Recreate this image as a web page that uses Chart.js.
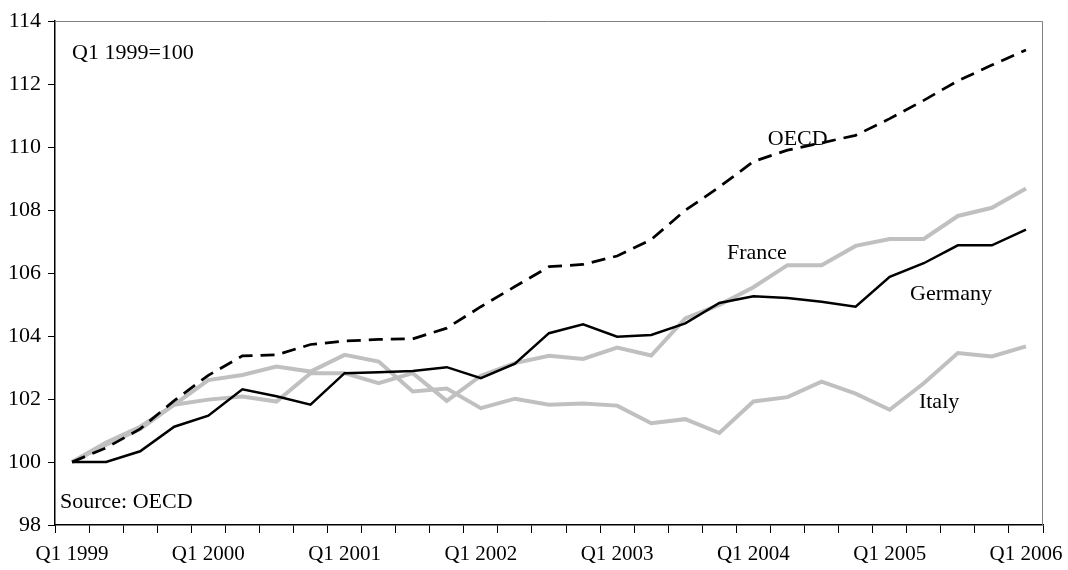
<!DOCTYPE html>
<html>
<head>
<meta charset="utf-8">
<script src="https://cdn.jsdelivr.net/npm/chart.js"></script>
<style>
  html, body { margin: 0; padding: 0; background: #fff; }
  #chart { display: block; }
</style>
</head>
<body>
<canvas id="chart" width="1068" height="570"></canvas>
<script>
// quarters, Q1 1999 .. Q1 2006
const quarters = [
  "Q1 1999", "Q2 1999", "Q3 1999", "Q4 1999",
  "Q1 2000", "Q2 2000", "Q3 2000", "Q4 2000",
  "Q1 2001", "Q2 2001", "Q3 2001", "Q4 2001",
  "Q1 2002", "Q2 2002", "Q3 2002", "Q4 2002",
  "Q1 2003", "Q2 2003", "Q3 2003", "Q4 2003",
  "Q1 2004", "Q2 2004", "Q3 2004", "Q4 2004",
  "Q1 2005", "Q2 2005", "Q3 2005", "Q4 2005",
  "Q1 2006"
];
const tickLabels = ["Q1 1999", "Q1 2000", "Q1 2001", "Q1 2002", "Q1 2003", "Q1 2004", "Q1 2005", "Q1 2006"];

// index values, Q1 1999 = 100
const oecd = [100, 100.45, 101.05, 101.95, 102.75, 103.37, 103.4, 103.73, 103.84, 103.89, 103.91, 104.25,
  104.93, 105.57, 106.2, 106.27, 106.54, 107.06, 107.99, 108.73, 109.54, 109.9, 110.13, 110.37,
  110.9, 111.48, 112.1, 112.6, 113.08];
const germany = [100, 100, 100.34, 101.12, 101.47, 102.31, 102.09, 101.82, 102.82, 102.85, 102.89, 103.01,
  102.66, 103.12, 104.09, 104.37, 103.98, 104.03, 104.4, 105.05, 105.26, 105.21, 105.09, 104.93,
  105.88, 106.31, 106.88, 106.88, 107.38];
const france = [100, 100.55, 101.05, 101.82, 101.98, 102.08, 101.92, 102.82, 102.82, 102.5, 102.82, 101.94,
  102.74, 103.14, 103.37, 103.27, 103.63, 103.38, 104.56, 104.99, 105.55, 106.25, 106.25, 106.86,
  107.08, 107.08, 107.81, 108.07, 108.68];
const italy = [100, 100.62, 101.12, 101.82, 102.6, 102.76, 103.03, 102.87, 103.4, 103.19, 102.24, 102.33,
  101.71, 102.01, 101.82, 101.86, 101.79, 101.23, 101.36, 100.92, 101.92, 102.06, 102.55, 102.17,
  101.66, 102.5, 103.46, 103.35, 103.67];

const FONT = "'Liberation Serif', 'Times New Roman', serif";
const GREY = "#c0c0c0";

// series names + free text written inside the plot
const annotations = {
  id: "annotations",
  afterDatasetsDraw(chart) {
    const ctx = chart.ctx;
    const x = chart.scales.x, y = chart.scales.y, area = chart.chartArea;
    ctx.save();
    ctx.fillStyle = "#000";
    ctx.font = "22px " + FONT;
    ctx.textBaseline = "middle";
    ctx.textAlign = "center";
    ctx.fillText("OECD", x.getPixelForValue(21.3), y.getPixelForValue(110.25));
    ctx.fillText("France", x.getPixelForValue(20.1), y.getPixelForValue(106.63));
    ctx.fillText("Germany", x.getPixelForValue(25.8), y.getPixelForValue(105.33));
    ctx.fillText("Italy", x.getPixelForValue(25.45), y.getPixelForValue(101.9));
    ctx.textAlign = "left";
    ctx.fillText("Q1 1999=100", area.left + 17, y.getPixelForValue(112.98));
    ctx.fillText("Source: OECD", area.left + 5, y.getPixelForValue(98.72));
    // plot-area frame on top and right
    ctx.strokeStyle = "#808080";
    ctx.lineWidth = 1;
    ctx.beginPath();
    ctx.moveTo(area.left, area.top + 0.5);
    ctx.lineTo(area.right - 0.5, area.top + 0.5);
    ctx.lineTo(area.right - 0.5, area.bottom);
    ctx.stroke();
    ctx.restore();
  }
};

new Chart(document.getElementById("chart"), {
  type: "line",
  data: {
    labels: quarters,
    datasets: [
      { label: "OECD", data: oecd, borderColor: "#000", borderWidth: 2.75, borderDash: [14, 8], order: 0 },
      { label: "Germany", data: germany, borderColor: "#000", borderWidth: 2.5, order: 1 },
      { label: "France", data: france, borderColor: GREY, borderWidth: 4, order: 2 },
      { label: "Italy", data: italy, borderColor: GREY, borderWidth: 4, order: 3 }
    ]
  },
  options: {
    responsive: false,
    animation: false,
    events: [],
    layout: { padding: { left: 0, top: 21, right: 25, bottom: 0 } },
    elements: {
      point: { radius: 0 },
      line: { tension: 0, borderCapStyle: "butt", borderJoinStyle: "miter", fill: false }
    },
    plugins: {
      legend: { display: false },
      tooltip: { enabled: false },
      title: { display: false }
    },
    scales: {
      x: {
        type: "category",
        offset: true,
        grid: { offset: true, drawOnChartArea: false, drawTicks: true, tickLength: 8, color: "#000", lineWidth: 1 },
        border: { color: "#000", width: 1.5 },
        ticks: {
          autoSkip: false,
          maxRotation: 0,
          padding: 9,
          color: "#000",
          font: { family: FONT, size: 21 },
          callback: function (val, idx) {
            const q = quarters[idx];
            return tickLabels.includes(q) ? q : "";
          }
        },
        afterFit(scale) {
          scale.height = 45;
          scale.paddingLeft = 0;
          scale.paddingRight = 0;
        }
      },
      y: {
        min: 98,
        max: 114,
        grid: { drawOnChartArea: false, drawTicks: true, tickLength: 7, color: "#000", lineWidth: 1 },
        border: { color: "#000", width: 1.5 },
        ticks: {
          stepSize: 2,
          padding: 7,
          color: "#000",
          font: { family: FONT, size: 22 }
        },
        afterFit(scale) {
          scale.width = 55;
          scale.paddingTop = 0;
          scale.paddingBottom = 0;
        }
      }
    }
  },
  plugins: [annotations]
});
</script>
</body>
</html>
